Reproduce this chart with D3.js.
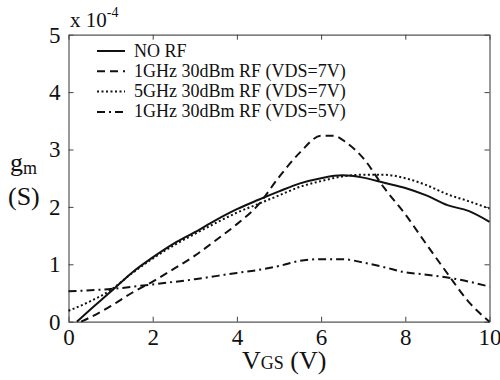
<!DOCTYPE html>
<html>
<head>
<meta charset="utf-8">
<script src="https://cdn.jsdelivr.net/npm/d3@7"></script>
<style>
  body { margin: 0; background: #fff; }
</style>
</head>
<body>
<div id="grafico"></div>
<script>
// dados (gm em unidades de 1e-4 S)
const vgsNoRf = [0.2, 0.5, 1, 1.5, 2, 2.5, 3, 3.5, 4, 4.5, 5, 5.5, 6, 6.5, 7, 7.5, 8, 8.5, 9, 9.5, 10];
const gmNoRf = [0, 0.2, 0.52, 0.85, 1.12, 1.36, 1.56, 1.77, 1.96, 2.12, 2.27, 2.41, 2.5, 2.55, 2.51, 2.42, 2.33, 2.2, 2.03, 1.93, 1.74];

const vgs1g7 = [0.3, 0.5, 1, 1.5, 2, 2.5, 3, 3.5, 4, 4.5, 5, 5.5, 6, 6.3, 6.6, 7, 7.5, 8, 8.5, 9, 9.5, 10];
const gm1g7 = [0, 0.07, 0.27, 0.5, 0.7, 0.92, 1.15, 1.42, 1.7, 2.03, 2.52, 2.95, 3.24, 3.24, 3.12, 2.85, 2.33, 1.87, 1.35, 0.84, 0.35, 0];

const vgs5g7 = [0, 0.5, 1, 1.5, 2, 2.5, 3, 3.5, 4, 4.5, 5, 5.5, 6, 6.5, 7, 7.5, 8, 8.5, 9, 9.5, 10];
const gm5g7 = [0.19, 0.35, 0.55, 0.84, 1.1, 1.33, 1.53, 1.72, 1.9, 2.05, 2.2, 2.35, 2.45, 2.53, 2.56, 2.56, 2.5, 2.38, 2.22, 2.1, 1.97];

const vgs1g5 = [0, 1, 2, 3, 4, 4.5, 5, 5.5, 6, 6.5, 7, 7.5, 8, 8.5, 9, 9.5, 10];
const gm1g5 = [0.53, 0.57, 0.65, 0.74, 0.85, 0.9, 0.97, 1.06, 1.09, 1.09, 1.03, 0.95, 0.86, 0.82, 0.77, 0.7, 0.61];

const legendas = ['NO RF', '1GHz 30dBm RF (VDS=7V)', '5GHz 30dBm RF (VDS=7V)', '1GHz 30dBm RF (VDS=5V)'];
const xTicks = [0, 2, 4, 6, 8, 10];
const yTicks = [0, 1, 2, 3, 4, 5];

const series = [
  { nome: legendas[0], x: vgsNoRf, y: gmNoRf, dash: null },
  { nome: legendas[1], x: vgs1g7, y: gm1g7, dash: '8,5' },
  { nome: legendas[2], x: vgs5g7, y: gm5g7, dash: '2,2.5' },
  { nome: legendas[3], x: vgs1g5, y: gm1g5, dash: '8,4,2,4' }
];

const FONTE = 'Liberation Serif';
const largura = 500, altura = 380;
const margin = { top: 34.7, right: 10.5, bottom: 58.3, left: 68.5 };

const svg = d3.select('#grafico').append('svg')
  .attr('width', largura)
  .attr('height', altura)
  .attr('font-family', FONTE);

const x = d3.scaleLinear().domain([0, 10]).range([margin.left, largura - margin.right]);
const y = d3.scaleLinear().domain([0, 5]).range([altura - margin.bottom, margin.top]);

// eixos (ticks para dentro, nos quatro lados)
const eixoX = svg.append('g')
  .attr('transform', `translate(0, ${y(0)})`)
  .call(d3.axisBottom(x).tickValues(xTicks).tickSizeInner(-5).tickSizeOuter(0).tickPadding(7).tickFormat(d3.format('d')));
const eixoY = svg.append('g')
  .attr('transform', `translate(${x(0)}, 0)`)
  .call(d3.axisLeft(y).tickValues(yTicks).tickSizeInner(-5).tickSizeOuter(0).tickPadding(8).tickFormat(d3.format('d')));
svg.append('g')
  .attr('transform', `translate(0, ${y(5)})`)
  .call(d3.axisTop(x).tickValues(xTicks).tickSizeInner(-5).tickSizeOuter(0).tickFormat(''));
svg.append('g')
  .attr('transform', `translate(${x(10)}, 0)`)
  .call(d3.axisRight(y).tickValues(yTicks).tickSizeInner(-5).tickSizeOuter(0).tickFormat(''));

svg.selectAll('g').attr('font-family', FONTE).attr('font-size', 23);
svg.selectAll('.domain').attr('stroke', '#555').attr('stroke-width', 1.2);
svg.selectAll('.tick line').attr('stroke', '#444');
eixoX.selectAll('text').attr('fill', '#111');
eixoY.selectAll('text').attr('fill', '#111');

// curvas
const linha = d3.line().x(d => x(d[0])).y(d => y(d[1])).curve(d3.curveMonotoneX);
series.forEach(s => {
  const pts = s.x.map((v, i) => [v, s.y[i]]);
  svg.append('path')
    .datum(pts)
    .attr('d', linha)
    .attr('fill', 'none')
    .attr('stroke', '#111')
    .attr('stroke-width', 2)
    .attr('stroke-dasharray', s.dash);
});

// legenda
const leg = svg.append('g');
series.forEach((s, i) => {
  const ly = 51 + i * 20.3;
  leg.append('line')
    .attr('x1', 97).attr('x2', 125)
    .attr('y1', ly).attr('y2', ly)
    .attr('stroke', '#111').attr('stroke-width', 2)
    .attr('stroke-dasharray', s.dash);
  leg.append('text')
    .attr('x', 134).attr('y', ly + 5.5)
    .attr('font-family', FONTE).attr('font-size', 18)
    .attr('fill', '#111')
    .text(s.nome);
});

// multiplicador
const mult = svg.append('text').attr('x', 70).attr('y', 27)
  .attr('font-family', FONTE).attr('font-size', 21).attr('fill', '#111');
mult.append('tspan').text('x 10');
mult.append('tspan').attr('dy', -10).attr('font-size', 14).text('-4');

// rótulo y
const gm = svg.append('text').attr('x', 10).attr('y', 171)
  .attr('font-family', FONTE).attr('font-size', 26).attr('fill', '#111');
gm.append('tspan').text('g');
gm.append('tspan').attr('dy', 3).attr('font-size', 18).text('m');
svg.append('text').attr('x', 8).attr('y', 205)
  .attr('font-family', FONTE).attr('font-size', 26).attr('fill', '#111').text('(S)');

// rótulo x
const xl = svg.append('text').attr('x', 242).attr('y', 369)
  .attr('font-family', FONTE).attr('font-size', 26).attr('fill', '#111');
xl.append('tspan').text('V');
xl.append('tspan').attr('font-size', 18).text('GS');
xl.append('tspan').text(' (V)');
</script>
</body>
</html>
